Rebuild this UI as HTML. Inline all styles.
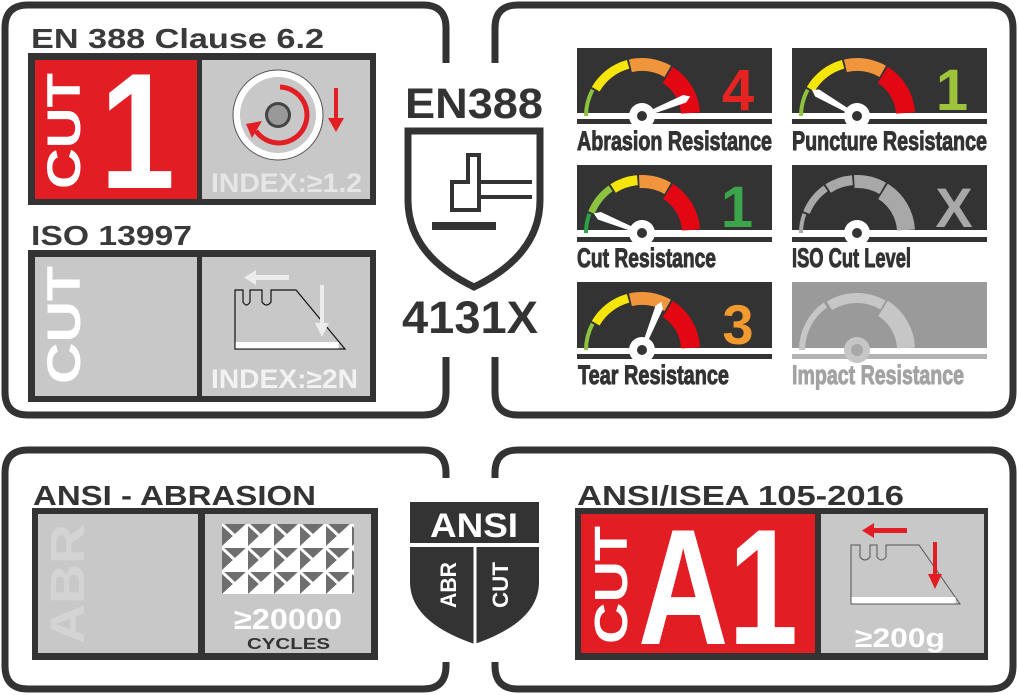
<!DOCTYPE html>
<html><head><meta charset="utf-8"><style>
html,body{margin:0;padding:0;background:#fff;}
svg{display:block;font-family:"Liberation Sans",Arial,sans-serif;font-weight:bold;}
</style></head><body>
<svg width="1019" height="695" viewBox="0 0 1019 695" xmlns="http://www.w3.org/2000/svg">
<defs>
<pattern id="pt" x="222" y="524" width="26" height="24" patternUnits="userSpaceOnUse">
<rect width="26" height="24" fill="#fff"/>
<polygon points="0,0 26,0 13,12" fill="#6e6e6e"/>
<polygon points="0,0 13,12 0,24" fill="#6e6e6e"/>
<path d="M0 0 L26 24 M26 0 L0 24" stroke="#fff" stroke-width="3"/>
</pattern>
<g id="needle"><polygon points="8,-2 46,-4 52,0 46,4 8,2" fill="#fff"/></g>
</defs>

<!-- panel outlines -->
<g fill="none" stroke="#333" stroke-width="7">
<path d="M446 63 V28 Q446 5 423 5 H28 Q5 5 5 28 V392 Q5 415 28 415 H423 Q446 415 446 392 V357"/>
<path d="M495 63 V28 Q495 5 518 5 H990 Q1013 5 1013 28 V392 Q1013 415 990 415 H518 Q495 415 495 392 V357"/>
<path d="M446 478 V473 Q446 450 423 450 H28 Q5 450 5 473 V666 Q5 689 28 689 H423 Q446 689 446 666 V662"/>
<path d="M495 478 V473 Q495 450 518 450 H990 Q1013 450 1013 473 V666 Q1013 689 990 689 H518 Q495 689 495 666 V662"/>
</g>

<!-- EN 388 Clause 6.2 -->
<text x="31" y="48" font-size="28" fill="#3a3a3a" textLength="293" lengthAdjust="spacingAndGlyphs">EN 388 Clause 6.2</text>
<rect x="28" y="53" width="348" height="152" fill="#333"/>
<rect x="35" y="60" width="162" height="139" fill="#e21d24"/>
<rect x="202" y="60" width="168" height="139" fill="#c8c8c8"/>
<text transform="translate(80,189) rotate(-90)" font-size="47" fill="#fff" textLength="116" lengthAdjust="spacingAndGlyphs">CUT</text>
<text x="100" y="188" font-size="165" fill="#fff" textLength="75" lengthAdjust="spacingAndGlyphs">1</text>
<circle cx="278" cy="115" r="45" fill="#fff" stroke="#555" stroke-width="1"/>
<circle cx="278" cy="115" r="38" fill="#c8c8c8"/>
<circle cx="278" cy="115" r="13" fill="#444"/>
<circle cx="278" cy="115" r="10" fill="#999"/>
<path d="M280 87 A28 28 0 1 1 256 131" fill="none" stroke="#e21d24" stroke-width="5"/>
<polygon points="246,124 262,121 252,138" fill="#e21d24"/>
<rect x="334" y="88" width="4" height="32" fill="#e21d24"/>
<polygon points="328,118 344,118 336,132" fill="#e21d24"/>
<text x="211" y="192" font-size="27" fill="#e6e6e6" textLength="151" lengthAdjust="spacingAndGlyphs">INDEX:≥1.2</text>

<!-- ISO 13997 -->
<text x="31" y="245" font-size="28" fill="#3a3a3a" textLength="161" lengthAdjust="spacingAndGlyphs">ISO 13997</text>
<rect x="28" y="250" width="348" height="152" fill="#333"/>
<rect x="35" y="257" width="162" height="139" fill="#c8c8c8"/>
<rect x="202" y="257" width="168" height="139" fill="#c8c8c8"/>
<text transform="translate(80,384) rotate(-90)" font-size="47" fill="#fff" textLength="118" lengthAdjust="spacingAndGlyphs">CUT</text>
<path d="M235 290 H243 V302 Q246.5 308 250 302 V290 H262 V302 Q266.5 308 271 302 V290 H296 L345 349 H235 Z" fill="#c8c8c8" stroke="#111" stroke-width="1.2"/>
<rect x="235.6" y="342" width="103" height="6.5" fill="#fff"/>
<rect x="255" y="275" width="34" height="5" fill="#ececec"/>
<polygon points="256,270 256,285 244,277.5" fill="#ececec"/>
<rect x="320" y="285" width="4" height="40" fill="#ececec"/>
<polygon points="315,323 329,323 322,337" fill="#ececec"/>
<text x="211" y="388" font-size="27" fill="#f2f2f2" textLength="147" lengthAdjust="spacingAndGlyphs">INDEX:≥2N</text>

<!-- EN388 shield -->
<text x="405" y="118" font-size="43" fill="#333" textLength="138" lengthAdjust="spacingAndGlyphs">EN388</text>
<path d="M408 131 H540 V200 Q540 255 474 287 Q408 255 408 200 Z" fill="#fff" stroke="#333" stroke-width="7"/>
<path d="M452 210 V182 H468 V155 H479 V210 Z" fill="none" stroke="#333" stroke-width="4"/>
<path d="M479 182 H532 M479 197 H532" stroke="#333" stroke-width="4"/>
<rect x="432" y="222" width="64" height="8" fill="#333"/>
<text x="402" y="333" font-size="45" fill="#333" textLength="136" lengthAdjust="spacingAndGlyphs">4131X</text>

<!-- Gauges -->
<g transform="translate(577,48)">
<rect width="195" height="65" fill="#333"/>
<rect y="71" width="195" height="5" fill="#333"/>
<g fill="none">
<path d="M9 68 A56 56 0 0 1 15.6 41.7" stroke="#8cc43f" stroke-width="4"/>
<path d="M18.7 41.25 A53.5 53.5 0 0 1 51.1 16.3" stroke="#f5e50a" stroke-width="9"/>
<path d="M53.4 17.8 A51.5 51.5 0 0 1 90.75 23.4" stroke="#f0953b" stroke-width="13"/>
<path d="M90.7 26.9 A48.5 48.5 0 0 1 113.5 65" stroke="#e30613" stroke-width="19"/>
</g>
<use href="#needle" transform="translate(65,68) rotate(-22)"/>
<circle cx="65" cy="68" r="13" fill="#fff"/><circle cx="65" cy="68" r="5" fill="#333"/>
<text x="161" y="62" font-size="58" fill="#e52421" text-anchor="middle">4</text>
<text x="0" y="102" font-size="27" fill="#333" stroke="#333" stroke-width="1" textLength="195" lengthAdjust="spacingAndGlyphs">Abrasion Resistance</text>
</g>
<g transform="translate(792,48)">
<rect width="195" height="65" fill="#333"/>
<rect y="71" width="195" height="5" fill="#333"/>
<g fill="none">
<path d="M9 68 A56 56 0 0 1 15.6 41.7" stroke="#8cc43f" stroke-width="4"/>
<path d="M18.7 41.25 A53.5 53.5 0 0 1 51.1 16.3" stroke="#f5e50a" stroke-width="9"/>
<path d="M53.4 17.8 A51.5 51.5 0 0 1 90.75 23.4" stroke="#f0953b" stroke-width="13"/>
<path d="M90.7 26.9 A48.5 48.5 0 0 1 113.5 65" stroke="#e30613" stroke-width="19"/>
</g>
<use href="#needle" transform="translate(65,68) rotate(-150)"/>
<circle cx="65" cy="68" r="13" fill="#fff"/><circle cx="65" cy="68" r="5" fill="#333"/>
<text x="160" y="62" font-size="58" fill="#9dc33b" text-anchor="middle">1</text>
<text x="0" y="102" font-size="27" fill="#333" stroke="#333" stroke-width="1" textLength="195" lengthAdjust="spacingAndGlyphs">Puncture Resistance</text>
</g>
<g transform="translate(577,165)">
<rect width="195" height="65" fill="#333"/>
<rect y="72" width="195" height="5" fill="#333"/>
<g fill="none">
<path d="M9 68 A56 56 0 0 1 12.4 48.8" stroke="#2ea04a" stroke-width="4"/>
<path d="M14.5 47.6 A54.5 54.5 0 0 1 33.7 23.4" stroke="#8cc43f" stroke-width="7"/>
<path d="M36.1 23.5 A53 53 0 0 1 60.4 15.2" stroke="#f5e50a" stroke-width="10"/>
<path d="M62.3 16.6 A51.5 51.5 0 0 1 90.75 23.4" stroke="#f0953b" stroke-width="13"/>
<path d="M91 26.4 A49 49 0 0 1 114 65" stroke="#e30613" stroke-width="18"/>
</g>
<use href="#needle" transform="translate(65,68) rotate(-158)"/>
<circle cx="65" cy="68" r="13" fill="#fff"/><circle cx="65" cy="68" r="5" fill="#333"/>
<text x="160" y="62" font-size="58" fill="#3aa54a" text-anchor="middle">1</text>
<text x="0" y="102" font-size="27" fill="#333" stroke="#333" stroke-width="1" textLength="139" lengthAdjust="spacingAndGlyphs">Cut Resistance</text>
</g>
<g transform="translate(792,165)">
<rect width="195" height="65" fill="#333"/>
<rect y="72" width="195" height="5" fill="#333"/>
<g fill="none" stroke="#a8a8a8">
<path d="M9 68 A56 56 0 0 1 12.4 48.8" stroke-width="4"/>
<path d="M14.5 47.6 A54.5 54.5 0 0 1 33.7 23.4" stroke-width="7"/>
<path d="M36.1 23.5 A53 53 0 0 1 60.4 15.2" stroke-width="10"/>
<path d="M62.3 16.6 A51.5 51.5 0 0 1 90.75 23.4" stroke-width="13"/>
<path d="M91 26.4 A49 49 0 0 1 114 65" stroke-width="18"/>
</g>
<circle cx="65" cy="68" r="13" fill="#fff"/><circle cx="65" cy="68" r="5" fill="#333"/>
<text x="162" y="62" font-size="56" fill="#a8a8a8" text-anchor="middle">X</text>
<text x="0" y="102" font-size="27" fill="#333" stroke="#333" stroke-width="1" textLength="119" lengthAdjust="spacingAndGlyphs">ISO Cut Level</text>
</g>
<g transform="translate(577,282)">
<rect width="195" height="66" fill="#333"/>
<rect y="72" width="195" height="5" fill="#333"/>
<g fill="none">
<path d="M9 68 A56 56 0 0 1 15.6 41.7" stroke="#8cc43f" stroke-width="4"/>
<path d="M18.7 41.25 A53.5 53.5 0 0 1 51.1 16.3" stroke="#f5e50a" stroke-width="9"/>
<path d="M53.4 17.8 A51.5 51.5 0 0 1 90.75 23.4" stroke="#f0953b" stroke-width="13"/>
<path d="M90.7 26.9 A48.5 48.5 0 0 1 113.5 66" stroke="#e30613" stroke-width="19"/>
</g>
<use href="#needle" transform="translate(65,68) rotate(-68)"/>
<circle cx="65" cy="68" r="13" fill="#fff"/><circle cx="65" cy="68" r="5" fill="#333"/>
<text x="161" y="62" font-size="56" fill="#f29a2e" text-anchor="middle">3</text>
<text x="1" y="102" font-size="27" fill="#333" stroke="#333" stroke-width="1" textLength="151" lengthAdjust="spacingAndGlyphs">Tear Resistance</text>
</g>
<g transform="translate(792,282)">
<rect width="195" height="66" fill="#9a9a9a"/>
<rect y="72" width="195" height="5" fill="#b4b4b4"/>
<g fill="none" stroke="#c6c6c6">
<path d="M10 68 A55 55 0 0 1 33.4 23" stroke-width="6"/>
<path d="M37.4 23.9 A52 52 0 0 1 91 23" stroke-width="10"/>
<path d="M91 26.4 A49 49 0 0 1 114 66" stroke-width="18"/>
</g>
<circle cx="65" cy="68" r="13" fill="#c6c6c6"/><circle cx="65" cy="68" r="6" fill="#a8a8a8"/>
<text x="0" y="102" font-size="27" fill="#a3a3a3" stroke="#a3a3a3" stroke-width="1" textLength="172" lengthAdjust="spacingAndGlyphs">Impact Resistance</text>
</g>

<!-- ANSI - ABRASION -->
<text x="33" y="505" font-size="28" fill="#333" textLength="283" lengthAdjust="spacingAndGlyphs">ANSI - ABRASION</text>
<rect x="32" y="508" width="346" height="152" fill="#333"/>
<rect x="38" y="514" width="160" height="139" fill="#c8c8c8"/>
<rect x="205" y="514" width="166" height="139" fill="#c8c8c8"/>
<text transform="translate(84,644) rotate(-90)" font-size="48" fill="#d4d4d4" textLength="120" lengthAdjust="spacingAndGlyphs">ABR</text>
<rect x="222" y="524" width="132" height="70" fill="url(#pt)"/>
<text x="234" y="629" font-size="29" fill="#fff" textLength="108" lengthAdjust="spacingAndGlyphs">≥20000</text>
<text x="247" y="649" font-size="16" fill="#333" textLength="83" lengthAdjust="spacingAndGlyphs">CYCLES</text>

<!-- ANSI shield -->
<rect x="410" y="502" width="129" height="41" fill="#333"/>
<text x="474" y="537" font-size="34" fill="#fff" text-anchor="middle" textLength="88" lengthAdjust="spacingAndGlyphs">ANSI</text>
<path d="M410 547 H539 V582 Q539 622 474.5 644 Q410 622 410 582 Z" fill="#333"/>
<rect x="473.5" y="547" width="3" height="98" fill="#fff"/>
<text transform="translate(456,608) rotate(-90)" font-size="22" fill="#fff" textLength="46" lengthAdjust="spacingAndGlyphs">ABR</text>
<text transform="translate(508,608) rotate(-90)" font-size="22" fill="#fff" textLength="46" lengthAdjust="spacingAndGlyphs">CUT</text>

<!-- ANSI/ISEA -->
<text x="577" y="505" font-size="28" fill="#333" textLength="327" lengthAdjust="spacingAndGlyphs">ANSI/ISEA 105-2016</text>
<rect x="575" y="508" width="413" height="152" fill="#333"/>
<rect x="581" y="514" width="234" height="139" fill="#e21d24"/>
<rect x="821" y="514" width="163" height="139" fill="#c8c8c8"/>
<text transform="translate(627,644) rotate(-90)" font-size="46" fill="#fff" textLength="118" lengthAdjust="spacingAndGlyphs">CUT</text>
<text x="638" y="644" font-size="165" fill="#fff" textLength="160" lengthAdjust="spacingAndGlyphs">A1</text>
<path d="M851 545 H860 V557 Q865 563 870 557 V545 H877 V557 Q881.5 563 886 557 V545 H919 L960 604 H851 Z" fill="#c8c8c8" stroke="#555" stroke-width="1"/>
<rect x="851.5" y="597" width="104" height="6.5" fill="#fff"/>
<rect x="873" y="528" width="34" height="5" fill="#e21d24"/>
<polygon points="874,523 874,538 862,530.5" fill="#e21d24"/>
<rect x="933" y="542" width="4" height="34" fill="#e21d24"/>
<polygon points="928,574 942,574 935,589" fill="#e21d24"/>
<text x="855" y="647" font-size="27" fill="#fff" textLength="90" lengthAdjust="spacingAndGlyphs">≥200g</text>
</svg>
</body></html>
